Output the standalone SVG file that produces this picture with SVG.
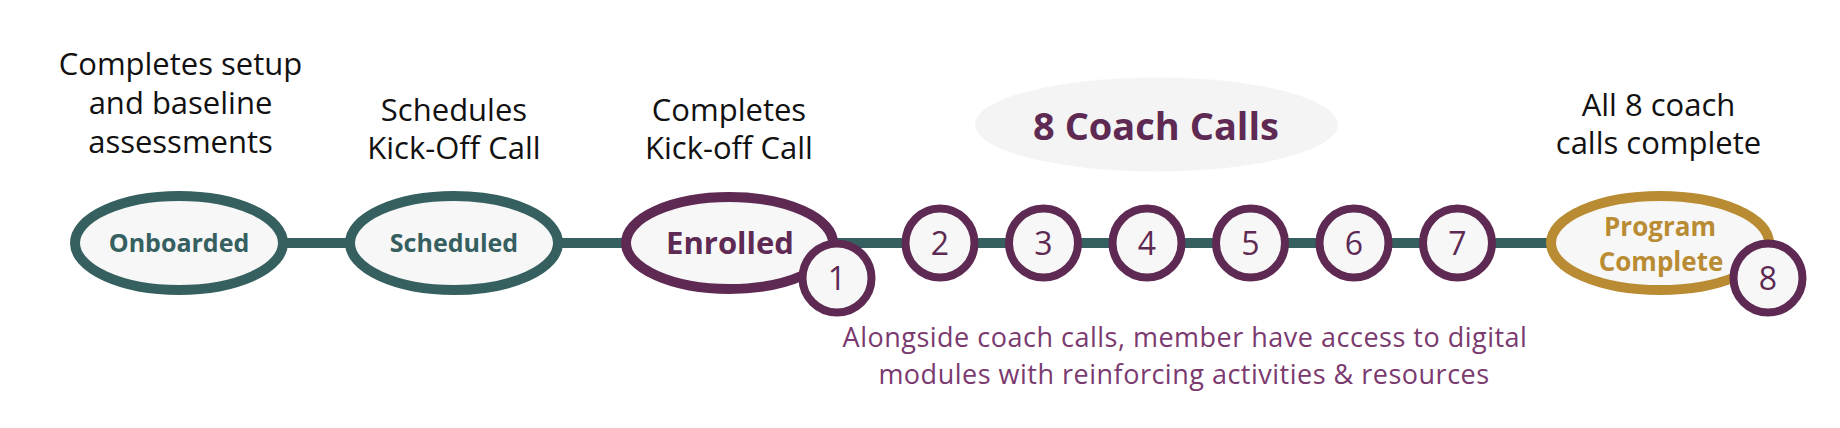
<svg xmlns="http://www.w3.org/2000/svg" width="1840" height="428" viewBox="0 0 1840 428">
  <style>
    .cap { font-family: "Open Sans", "Liberation Sans", sans-serif; font-size: 31px; fill: #111111; text-anchor: middle; }
    .lbl { font-family: "Open Sans", "Liberation Sans", sans-serif; font-weight: 700; text-anchor: middle; }
    .teal { fill: #35605f; }
    .purple { fill: #5e2a53; }
    .gold { fill: #b98c33; }
    .oval { fill: #f7f7f7; stroke-width: 10; }
    .step { fill: #f7f7f7; stroke: #5e2a53; stroke-width: 8; }
    .num { font-family: "Open Sans", "Liberation Sans", sans-serif; font-size: 32px; fill: #5e2a53; text-anchor: middle; }
    .note { font-family: "Open Sans", "Liberation Sans", sans-serif; font-size: 27px; letter-spacing: 0.5px; fill: #7b3a6f; text-anchor: middle; }
    .conn { stroke: #35605f; stroke-width: 10; fill: none; }
  </style>

  <g id="connectors">
    <line class="conn" x1="285" y1="243" x2="1552" y2="243"/>
  </g>

  <g id="title-8-coach-calls">
    <ellipse cx="1156.5" cy="124.5" rx="181.5" ry="47" fill="#f4f4f4"/>
    <text class="lbl purple" x="1156" y="140" font-size="38">8 Coach Calls</text>
  </g>

  <g id="onboarded">
    <text class="cap" x="180.5" y="75">Completes setup</text>
    <text class="cap" x="180.5" y="114">and baseline</text>
    <text class="cap" x="180.5" y="153">assessments</text>
    <ellipse class="oval" cx="179" cy="243" rx="104" ry="47" stroke="#35605f"/>
    <text class="lbl teal" x="179" y="252" font-size="25">Onboarded</text>
  </g>

  <g id="scheduled">
    <text class="cap" x="454" y="120.5">Schedules</text>
    <text class="cap" x="454" y="159">Kick-Off Call</text>
    <ellipse class="oval" cx="454" cy="243" rx="104" ry="47" stroke="#35605f"/>
    <text class="lbl teal" x="454" y="252" font-size="25">Scheduled</text>
  </g>

  <g id="enrolled">
    <text class="cap" x="729" y="120.5">Completes</text>
    <text class="cap" x="729" y="159">Kick-off Call</text>
    <ellipse class="oval" cx="729.5" cy="243" rx="103.5" ry="46" stroke="#5e2a53" stroke-width="12"/>
    <text class="lbl purple" x="730" y="254" font-size="31">Enrolled</text>
  </g>

  <g id="call-1">
    <circle class="step" cx="837" cy="278" r="34.5"/>
    <text class="num" x="837" y="289.5">1</text>
  </g>
  <g id="call-2">
    <circle class="step" cx="940" cy="243" r="34.5"/>
    <text class="num" x="940" y="254.5">2</text>
  </g>
  <g id="call-3">
    <circle class="step" cx="1043.5" cy="243" r="34.5"/>
    <text class="num" x="1043.5" y="254.5">3</text>
  </g>
  <g id="call-4">
    <circle class="step" cx="1147" cy="243" r="34.5"/>
    <text class="num" x="1147" y="254.5">4</text>
  </g>
  <g id="call-5">
    <circle class="step" cx="1250.5" cy="243" r="34.5"/>
    <text class="num" x="1250.5" y="254.5">5</text>
  </g>
  <g id="call-6">
    <circle class="step" cx="1354" cy="243" r="34.5"/>
    <text class="num" x="1354" y="254.5">6</text>
  </g>
  <g id="call-7">
    <circle class="step" cx="1457.5" cy="243" r="34.5"/>
    <text class="num" x="1457.5" y="254.5">7</text>
  </g>

  <g id="program-complete">
    <text class="cap" x="1658.5" y="116">All 8 coach</text>
    <text class="cap" x="1658.5" y="154">calls complete</text>
    <ellipse class="oval" cx="1660" cy="243" rx="109" ry="47" stroke="#b98c33" stroke-width="9"/>
    <text class="lbl gold" x="1660" y="235.5" font-size="26">Program</text>
    <text class="lbl gold" x="1661" y="270.5" font-size="26">Complete</text>
  </g>

  <g id="call-8">
    <circle class="step" cx="1768" cy="278" r="34.5"/>
    <text class="num" x="1768" y="289.5">8</text>
  </g>

  <g id="digital-modules-note">
    <text class="note"><tspan x="1185" y="346.5">Alongside coach calls, member have access to digital</tspan><tspan x="1184" y="383.5">modules with reinforcing activities &amp; resources</tspan></text>
  </g>
</svg>
